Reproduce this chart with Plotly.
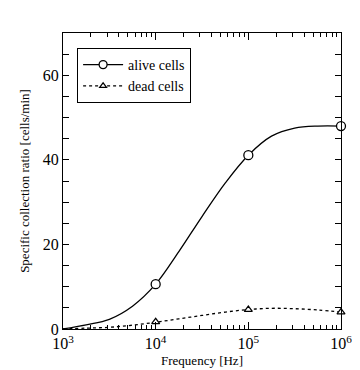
import plotly.graph_objects as go

# Measured data points
freq_points = [1e3, 1e4, 1e5, 1e6]
alive_points = [0.0, 10.6, 41.1, 48.0]
dead_points = [0.0, 1.7, 4.6, 4.0]

# Fitted curves, frequency in Hz
curve_f = [1000, 1778, 3162, 5623, 10000, 17783, 31623, 56234,
           100000, 177828, 316228, 562341, 1000000]
alive_curve_y = [0.0, 1.0, 2.3, 5.4, 10.6, 18.3, 26.6, 34.5,
                 41.1, 45.6, 47.5, 48.0, 48.0]
dead_curve_y = [0.0, 0.2, 0.4, 0.9, 1.6, 2.4, 3.2, 4.0,
                4.6, 4.9, 4.8, 4.5, 4.0]

x_tickvals = [1e3, 1e4, 1e5, 1e6]
x_ticktext = ["10<sup>3</sup>", "10<sup>4</sup>", "10<sup>5</sup>", "10<sup>6</sup>"]
x_minor = [m * 10 ** e for e in (3, 4, 5) for m in range(2, 10)]

FONT = "Liberation Serif"

fig = go.Figure()

# curves
fig.add_trace(go.Scatter(x=curve_f, y=alive_curve_y, mode="lines",
                         line=dict(color="black", width=1.3, shape="spline", smoothing=1.0),
                         showlegend=False, hoverinfo="skip"))
fig.add_trace(go.Scatter(x=curve_f, y=dead_curve_y, mode="lines",
                         line=dict(color="black", width=1.3, shape="spline", smoothing=1.0, dash="3px,3px"),
                         showlegend=False, hoverinfo="skip"))
# markers
fig.add_trace(go.Scatter(x=freq_points, y=alive_points, mode="markers",
                         marker=dict(symbol="circle", size=9, color="white",
                                     line=dict(color="black", width=1.3)),
                         showlegend=False, cliponaxis=False))
fig.add_trace(go.Scatter(x=freq_points, y=dead_points, mode="markers",
                         marker=dict(symbol="triangle-up", size=7, color="white",
                                     line=dict(color="black", width=1.2)),
                         showlegend=False, cliponaxis=False))
# legend entries
fig.add_trace(go.Scatter(x=[None], y=[None], mode="lines+markers", name="alive cells",
                         line=dict(color="black", width=1.3),
                         marker=dict(symbol="circle", size=8, color="white",
                                     line=dict(color="black", width=1.3))))
fig.add_trace(go.Scatter(x=[None], y=[None], mode="lines+markers", name="dead cells",
                         line=dict(color="black", width=1.3, dash="3px,3px"),
                         marker=dict(symbol="triangle-up", size=6, color="white",
                                     line=dict(color="black", width=1.2))))

fig.update_layout(
    width=360, height=370,
    margin=dict(l=55, r=27, t=25, b=49),
    paper_bgcolor="white", plot_bgcolor="white",
    font=dict(family=FONT, color="black", size=14),
    legend=dict(x=0.05, y=0.95, xanchor="left", yanchor="top",
                bordercolor="black", borderwidth=1.2, bgcolor="white",
                font=dict(family=FONT, size=14), tracegroupgap=0,
                itemwidth=40),
    showlegend=True,
)
fig.update_xaxes(
    type="log", range=[3, 6],
    tickvals=x_tickvals, ticktext=x_ticktext,
    ticks="inside", ticklen=7, tickwidth=1, tickcolor="black",
    minor=dict(tickvals=x_minor, ticks="inside", ticklen=4, tickwidth=1, tickcolor="black"),
    showline=True, linecolor="black", linewidth=1.3, mirror="ticks",
    showgrid=False, zeroline=False,
    tickfont=dict(family=FONT, size=16),
    title=dict(text="Frequency [Hz]", font=dict(family=FONT, size=13), standoff=4),
)
fig.update_yaxes(
    range=[0, 70], tickvals=[0, 20, 40, 60],
    ticks="inside", ticklen=6, tickwidth=1, tickcolor="black",
    minor=dict(dtick=5, ticks="inside", ticklen=6, tickwidth=1, tickcolor="black"),
    showline=True, linecolor="black", linewidth=1.3, mirror="ticks",
    showgrid=False, zeroline=False,
    tickfont=dict(family=FONT, size=16),
    title=dict(text="Specific collection ratio [cells/min]", font=dict(family=FONT, size=13), standoff=10),
)

fig.write_html("out.html")
